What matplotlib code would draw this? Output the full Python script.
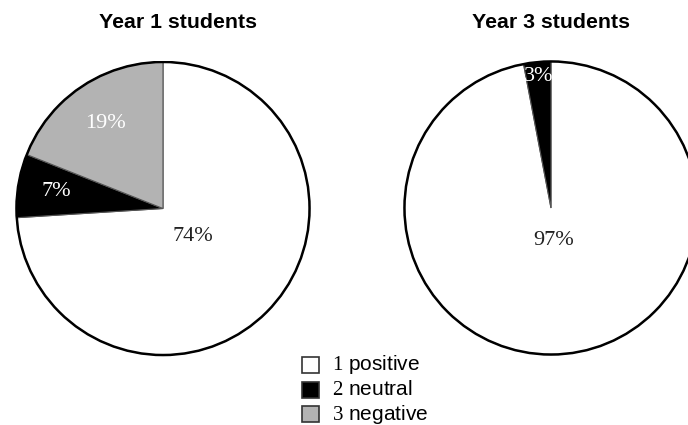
import matplotlib
matplotlib.use("Agg")
import matplotlib.pyplot as plt
import numpy as np
from matplotlib.patches import Circle, Rectangle

plt.rcParams['mathtext.fontset'] = 'custom'
plt.rcParams['mathtext.rm'] = 'Liberation Serif'

# data
categories = ['positive', 'neutral', 'negative']
year1_values = [74, 7, 19]
year3_values = [97, 3]
titles = ['Year 1 students', 'Year 3 students']

colors = ['white', 'black', '#b3b3b3']
text_colors = ['#222222', 'white', 'white']

W, H = 688, 425
fig = plt.figure(figsize=(W / 100, H / 100), dpi=100)


def draw_pie(cx, cy, r, values, dists):
    ax = fig.add_axes([(cx - r) / W, (H - cy - r) / H, 2 * r / W, 2 * r / H])
    wedges, texts, autotexts = ax.pie(values, colors=colors[:len(values)],
                                      startangle=90, counterclock=False,
                                      autopct='%d%%',
                                      wedgeprops=dict(edgecolor='#555555', linewidth=0.8),
                                      textprops=dict(family='Liberation Serif', fontsize=16))
    for i, (w, t) in enumerate(zip(wedges, autotexts)):
        mid = np.deg2rad((w.theta1 + w.theta2) / 2)
        t.set_position((dists[i] * np.cos(mid), dists[i] * np.sin(mid)))
        t.set_color(text_colors[i])
        t.set_text('%d%%' % values[i])
    ax.add_patch(Circle((0, 0), 1, fill=False, edgecolor='black', linewidth=1.8))
    ax.set_xlim(-1.01, 1.01)
    ax.set_ylim(-1.01, 1.01)
    ax.set_aspect('auto')
    ax.axis('off')
    return ax


draw_pie(163, 208.5, 148, year1_values, [0.28, 0.74, 0.70])
draw_pie(551, 208, 148, year3_values, [0.22, 0.90])

fig.text(178 / W, 1 - 23 / H, titles[0], ha='center', va='center',
         family='Liberation Sans', fontweight='bold', fontsize=15.3)
fig.text(551 / W, 1 - 23 / H, titles[1], ha='center', va='center',
         family='Liberation Sans', fontweight='bold', fontsize=15.3)

# legend, drawn by hand
for i, cat in enumerate(categories):
    yc = 365 + i * 24.5
    fig.patches.append(Rectangle((302 / W, 1 - (yc + 8) / H), 17 / W, 16 / H,
                                 transform=fig.transFigure, facecolor=colors[i],
                                 edgecolor='#333333', linewidth=1.2))
    fig.text(332 / W, 1 - yc / H, r'$\mathrm{%d}$ %s' % (i + 1, cat),
             ha='left', va='center', family='Liberation Sans', fontsize=15)

fig.savefig('out.png', dpi=100, facecolor='white')
